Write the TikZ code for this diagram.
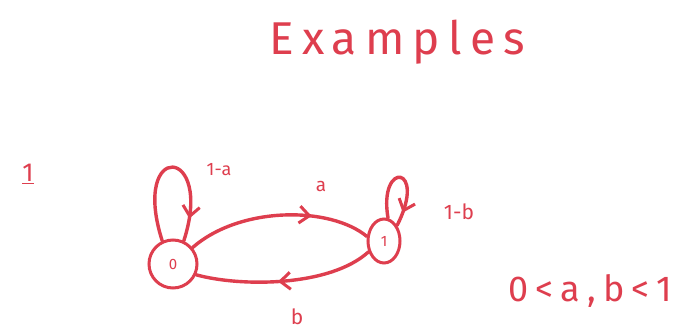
\documentclass[tikz,border=0pt]{standalone}
\usepackage{fontspec}
\setmainfont{Fira Sans}
\usetikzlibrary{arrows.meta,shapes.geometric,decorations.markings}
\definecolor{ink}{RGB}{222,62,78}
\tikzset{
  state/.style={draw=ink, line width=3pt, inner sep=0pt, text=ink},
  edge/.style={draw=ink, line width=3.4pt, line cap=round},
  midarrow/.style={postaction={decorate}, decoration={markings,
     mark=at position #1 with {\arrow{Straight Barb[length=10pt,width=17pt,line width=3pt]}}}},
  lbl/.style={text=ink, inner sep=0pt},
}
\begin{document}
\begin{tikzpicture}[x=1pt,y=-1pt]
\useasboundingbox[fill=white] (0,0) rectangle (678,335);
% title
\node[lbl, font=\fontsize{46}{46}\selectfont\addfontfeature{LetterSpace=18}] (title) at (397,42) {Examples};
\node[lbl, font=\fontsize{26}{26}\selectfont] (num) at (28,174) {\underline{1}};
% states
\node[state, circle, minimum size=48pt, font=\fontsize{15}{15}\selectfont] (n0) at (173,264) {0};
\node[state, ellipse, minimum width=32pt, minimum height=44pt, font=\fontsize{15}{15}\selectfont] (n1) at (384,241) {1};
% edges
\draw[edge, midarrow=0.68] (n0.40) .. controls (240,206) and (330,206) .. (n1.165);
\draw[edge, midarrow=0.54] (n1.215) .. controls (330,287) and (240,287) .. (n0.-25);
\draw[edge, midarrow=0.86] (n0.115) .. controls (130,140) and (215,145) .. (n0.65);
\draw[edge, midarrow=0.86] (n1.80) .. controls (378,160) and (428,165) .. (n1.50);
% labels
\node[lbl, font=\fontsize{19}{19}\selectfont] (la) at (321,186) {a};
\node[lbl, font=\fontsize{21}{21}\selectfont] (lb) at (297,317) {b};
\node[lbl, font=\fontsize{18}{18}\selectfont] (l1a) at (219,170) {1-a};
\node[lbl, font=\fontsize{21}{21}\selectfont] (l1b) at (459,212) {1-b};
\node[lbl, font=\fontsize{36}{36}\selectfont\addfontfeature{LetterSpace=20}] (cond) at (590,291) {0<a,b<1};
\end{tikzpicture}
\end{document}
